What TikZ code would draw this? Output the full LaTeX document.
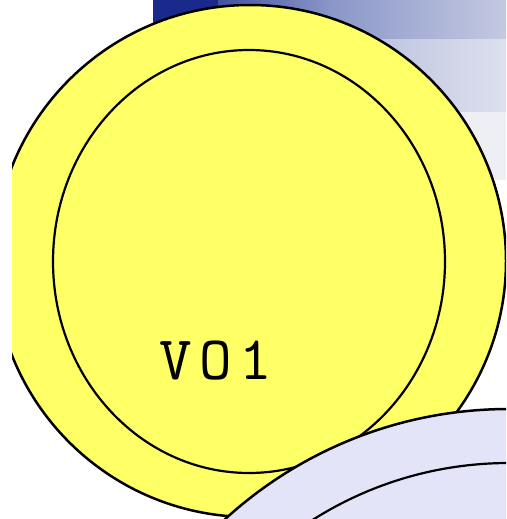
\documentclass[tikz,border=0pt]{standalone}
\usepackage{fontspec}
\newfontfamily\vofont[LetterSpace=12]{lmmono10-regular.otf}
\usetikzlibrary{shapes.geometric}
\definecolor{voNavy}{HTML}{1A2A8C}
\definecolor{voMid}{HTML}{8A96C8}
\definecolor{voPale}{HTML}{C4C9E2}
\definecolor{voMist}{HTML}{DDE0EE}
\definecolor{voFog}{HTML}{EDEFF5}
\definecolor{voYellow}{HTML}{FFFF66}
\definecolor{voLilac}{HTML}{E4E4F8}
\tikzset{
  vo ring/.style={circle, draw=black, line width=2.5pt, inner sep=0pt},
  vo hole/.style={ellipse, draw=black, line width=2.2pt, inner sep=0pt},
  vo label/.style={font=\vofont\fontsize{62}{62}\selectfont, text=black, inner sep=0pt},
}

\begin{document}
\begin{tikzpicture}[x=1pt,y=-1pt]
\useasboundingbox(0,0)rectangle(506,519);
\clip(0,0)rectangle(506,519);
% backdrop bands
\shade[left color=voNavy,right color=voPale,middle color=voMid](153,0)rectangle(506,40);
\fill[voNavy](153,0)rectangle(218,40);
\shade[left color=voMid,right color=voMist](153,40)rectangle(506,112);
\fill[voFog](153,112)rectangle(506,180);
% yellow disc
\begin{scope}
\clip(12,0)rectangle(506,519);
\node[vo ring,fill=voYellow,minimum size=512pt](outer)at(250,261){};
\end{scope}
\node[vo hole,fill=voYellow,minimum width=392pt,minimum height=423pt](inner)at(249,261.5){};
\node[vo label](vo1)at(216,361){VO1};
% lilac disc
\node[vo ring,fill=voLilac,minimum size=842pt](lilacouter)at(509,830){};
\node[vo ring,line width=2.2pt,fill=voLilac,minimum size=734pt](lilacinner)at(509,830){};
\end{tikzpicture}
\end{document}
